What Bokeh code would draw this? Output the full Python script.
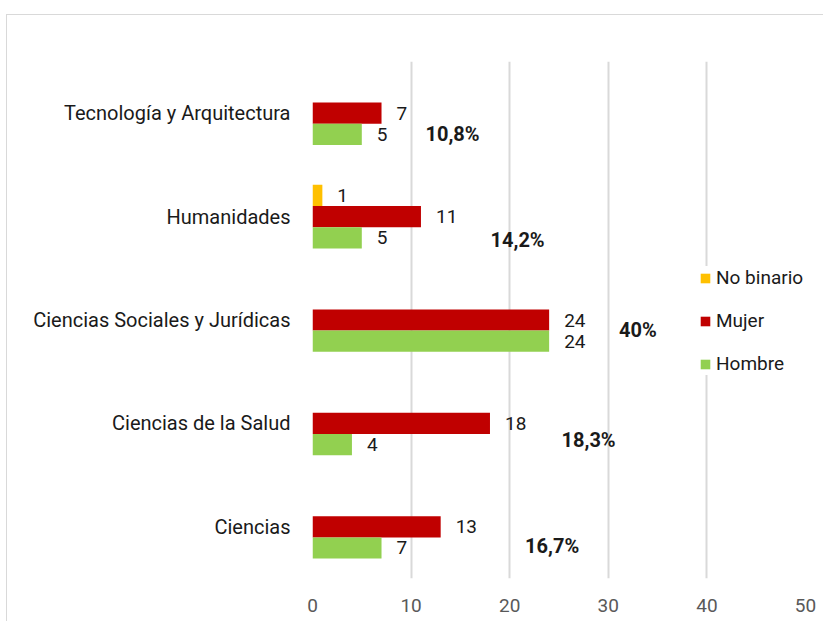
from bokeh.plotting import figure
from bokeh.models import ColumnDataSource, FactorRange, Legend, LegendItem, FixedTicker, Range1d
from bokeh.transform import dodge
from bokeh.core.properties import value
from bokeh.embed import file_html
from bokeh.resources import INLINE

# ---- data (bottom to top) ----
categories = ["Ciencias", "Ciencias de la Salud", "Ciencias Sociales y Jurídicas",
              "Humanidades", "Tecnología y Arquitectura"]
hombre = [7, 4, 24, 5, 5]
mujer = [13, 18, 24, 11, 7]
no_binario = [0, 0, 0, 1, 0]
porcentaje = ["16,7%", "18,3%", "40%", "14,2%", "10,8%"]
x_ticks = [0, 10, 20, 30, 40, 50]

# label placement (layout only)
pct_label_x = [24.3, 28.0, 33.0, 20.8, 14.2]
pct_label_dy = [-0.19, -0.165, -0.10, -0.23, -0.205]

FONT = "Roboto, sans-serif"
TXT = "#1a1a1a"
C_NB, C_M, C_H = "#FFC000", "#C00000", "#92D050"
BH = 0.205

src = ColumnDataSource(dict(cat=categories, h=hombre, m=mujer, nb=no_binario,
                            h_txt=[str(v) for v in hombre], m_txt=[str(v) for v in mujer],
                            nb_txt=[str(v) if v else "" for v in no_binario]))

p = figure(y_range=FactorRange(*categories, range_padding=0), x_range=Range1d(0, 50),
           frame_width=493, frame_height=517,
           min_border_left=305, min_border_right=18, min_border_top=46, min_border_bottom=43,
           output_backend="svg", toolbar_location=None)
p.styles = {"border-left": "1px solid #d9d9d9", "border-top": "1px solid #d9d9d9",
            "margin-left": "6px", "margin-top": "14px"}
p.outline_line_color = None
p.background_fill_color = "white"
p.border_fill_color = "white"

r_nb = p.hbar(y=dodge("cat", BH, range=p.y_range), right="nb", left=0, height=BH,
              source=src, fill_color=C_NB, line_color=None)
r_m = p.hbar(y=dodge("cat", 0, range=p.y_range), right="m", left=0, height=BH,
             source=src, fill_color=C_M, line_color=None)
r_h = p.hbar(y=dodge("cat", -BH, range=p.y_range), right="h", left=0, height=BH,
             source=src, fill_color=C_H, line_color=None)

common = dict(source=src, text_font=value(FONT), text_font_size="19px", text_color=TXT,
              text_baseline="middle", text_align="left", x_offset=15)
p.text(x="nb", y=dodge("cat", BH, range=p.y_range), text="nb_txt", **common)
p.text(x="m", y=dodge("cat", 0, range=p.y_range), text="m_txt", **common)
p.text(x="h", y=dodge("cat", -BH, range=p.y_range), text="h_txt", **common)

for c, x, t, dy in zip(categories, pct_label_x, porcentaje, pct_label_dy):
    s = ColumnDataSource(dict(cat=[c], x=[x], txt=[t]))
    p.text(x="x", y=dodge("cat", dy, range=p.y_range), text="txt", source=s,
           text_font=value(FONT), text_font_size="20px", text_font_style="bold",
           text_color=TXT, text_align="center", text_baseline="middle")

# axes
p.xaxis.ticker = FixedTicker(ticks=x_ticks)
p.xaxis.axis_line_color = None
p.xaxis.major_tick_line_color = None
p.xaxis.minor_tick_line_color = None
p.xaxis.major_label_text_font = FONT
p.xaxis.major_label_text_font_size = "19px"
p.xaxis.major_label_text_color = "#595959"
p.xaxis.major_label_standoff = 14

p.yaxis.axis_line_color = None
p.yaxis.major_tick_line_color = None
p.yaxis.minor_tick_line_color = None
p.yaxis.major_label_text_font = FONT
p.yaxis.major_label_text_font_size = "20px"
p.yaxis.major_label_text_color = TXT
p.yaxis.major_label_standoff = 16

p.ygrid.grid_line_color = None
p.xgrid.grid_line_color = "#d9d9d9"
p.xgrid.grid_line_width = 2

legend = Legend(items=[LegendItem(label="No binario", renderers=[r_nb]),
                       LegendItem(label="Mujer", renderers=[r_m]),
                       LegendItem(label="Hombre", renderers=[r_h])],
                location=(387, 203), orientation="vertical",
                glyph_width=12, glyph_height=12, label_text_font=FONT,
                label_text_font_size="19px", label_text_color=TXT,
                label_standoff=5, spacing=20, padding=4, margin=0,
                border_line_color=None, background_fill_color="white",
                background_fill_alpha=1.0)
p.add_layout(legend)

open("out.html", "w").write(file_html(p, INLINE))
